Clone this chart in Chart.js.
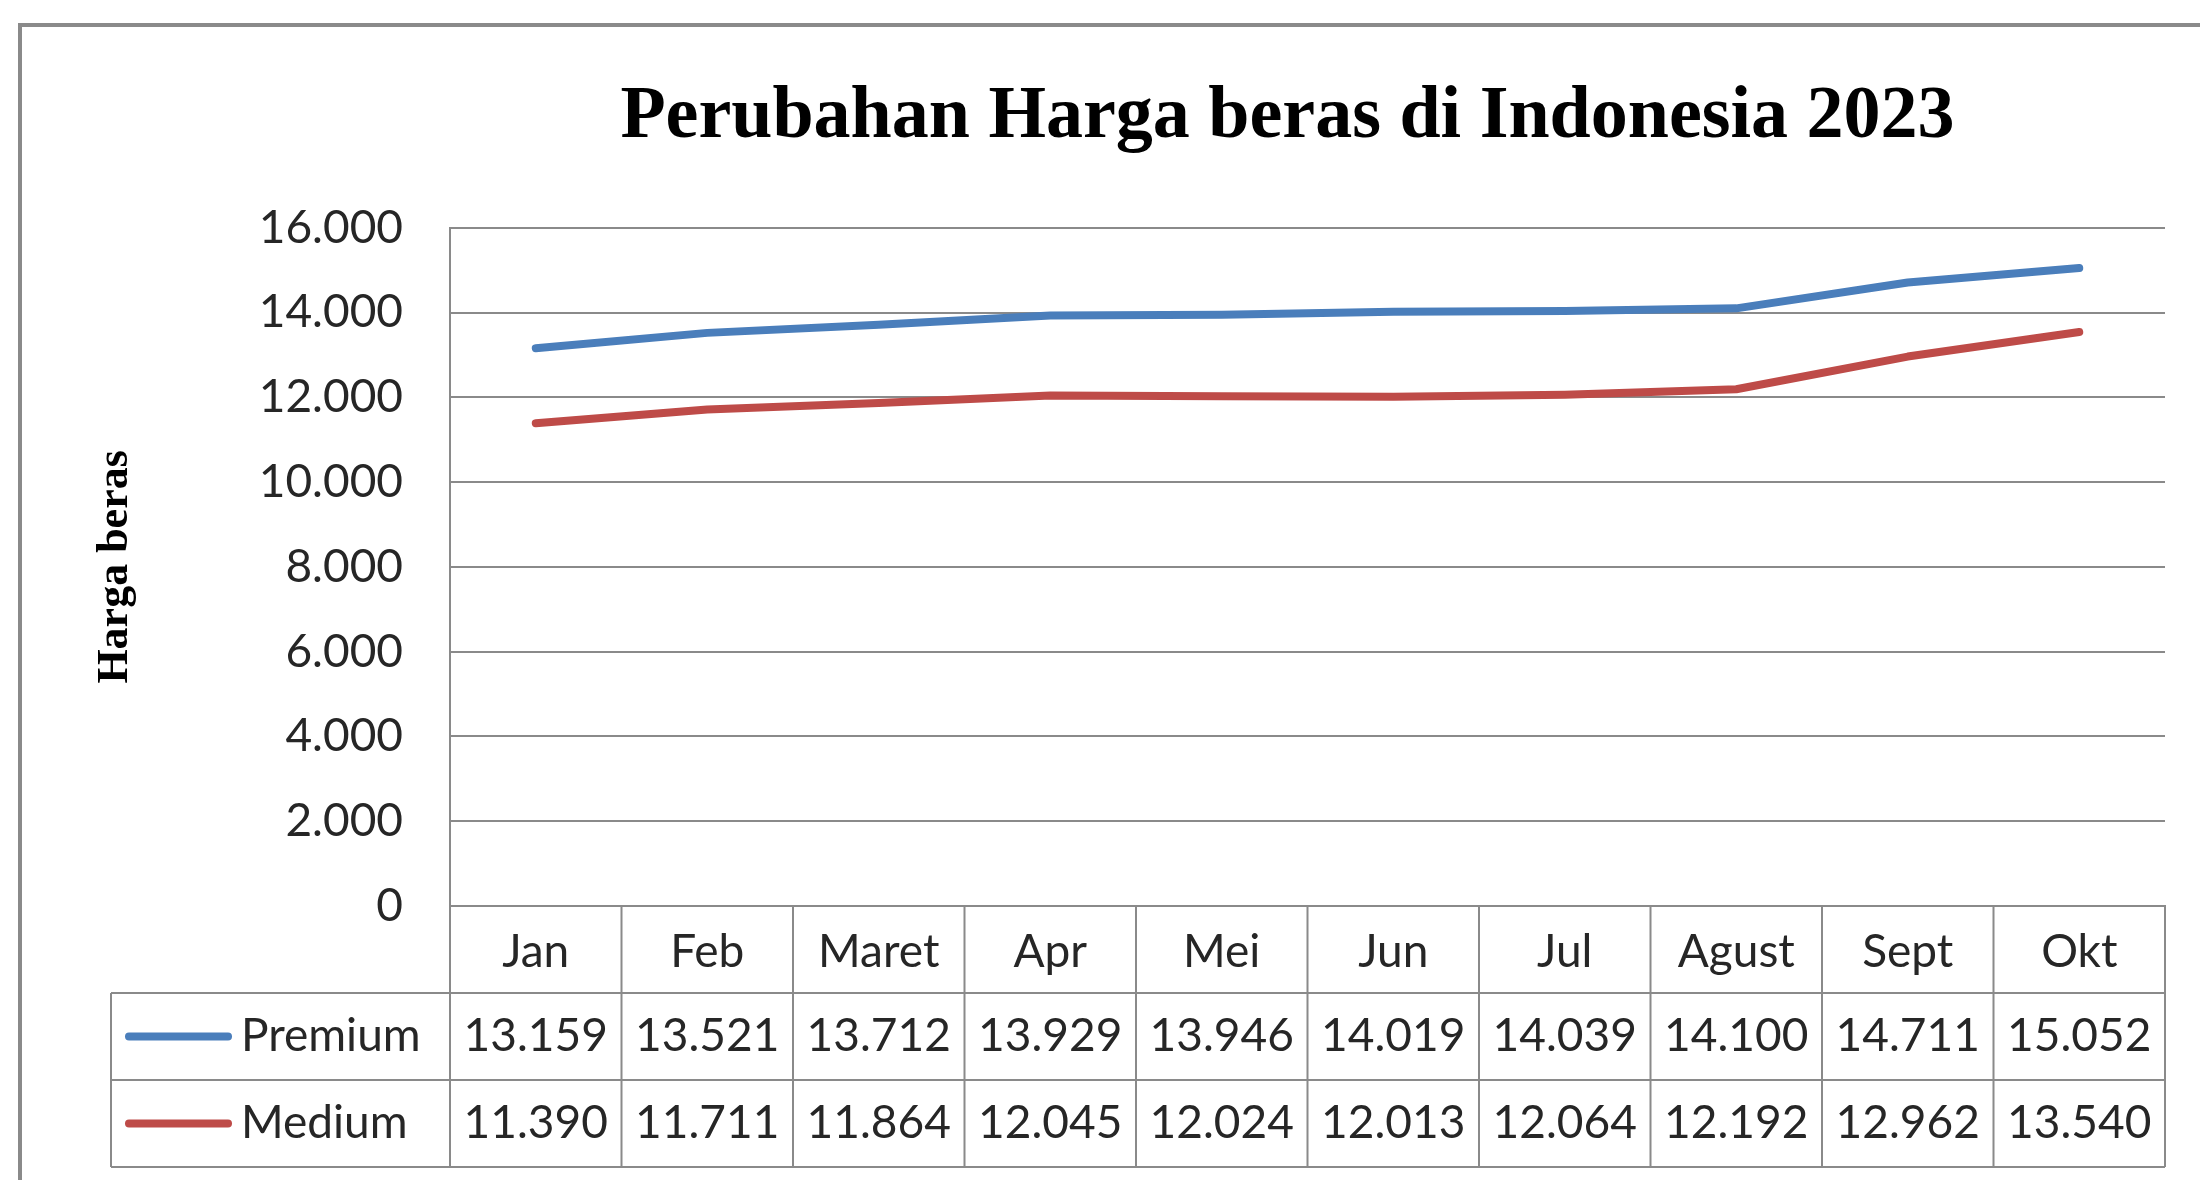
<!DOCTYPE html>
<html>
<head>
<meta charset="utf-8">
<title>Perubahan Harga beras di Indonesia 2023</title>
<script src="https://cdn.jsdelivr.net/npm/chart.js@4.4.1/dist/chart.umd.min.js"></script>
<style>
  html, body { margin: 0; padding: 0; background: #fff; }
  canvas { display: block; }
</style>
</head>
<body>
<canvas id="grafik-beras" width="2200" height="1180"></canvas>
<script>
// Harga beras per bulan, 2023
const bulan = ['Jan', 'Feb', 'Maret', 'Apr', 'Mei', 'Jun', 'Jul', 'Agust', 'Sept', 'Okt'];
const hargaPremium = [13159, 13521, 13712, 13929, 13946, 14019, 14039, 14100, 14711, 15052];
const hargaMedium = [11390, 11711, 11864, 12045, 12024, 12013, 12064, 12192, 12962, 13540];

const warnaGaris = '#8a8a8a';
const warnaTeks = '#262626';
const fontAngka = '"Lato", "Open Sans", sans-serif';
const fontJudul = '"Liberation Serif", "Times New Roman", serif';

function formatRibuan(v) {
    return String(v).replace(/\B(?=(\d{3})+(?!\d))/g, '.');
}

// Bingkai luar + geser judul sedikit ke kiri
const bingkaiPlugin = {
    id: 'bingkai',
    afterLayout(chart) {
        const t = chart.titleBlock;
        if (t) { t.left -= 20; t.right -= 20; }
    },
    beforeDraw(chart) {
        const ctx = chart.ctx;
        ctx.save();
        ctx.fillStyle = '#fff';
        ctx.fillRect(0, 0, chart.width, chart.height);
        ctx.strokeStyle = warnaGaris;
        ctx.lineWidth = 4;
        ctx.strokeRect(20, 25, chart.width + 40, chart.height + 40);
        ctx.restore();
    }
};

// Tabel data di bawah grafik
const tabelPlugin = {
    id: 'tabelData',
    afterDraw(chart) {
        const ctx = chart.ctx;
        const x = chart.scales.x;
        const area = chart.chartArea;
        const datasets = chart.data.datasets;
        const tinggiBaris = 87;
        const kiriLegenda = 111;
        const atas = x.top;
        const baris1 = x.bottom;
        const bawah = baris1 + tinggiBaris * datasets.length;
        const lebarKolom = (area.right - area.left) / bulan.length;

        ctx.save();
        ctx.strokeStyle = warnaGaris;
        ctx.lineWidth = 2;
        ctx.beginPath();
        for (let i = 0; i <= bulan.length; i++) {
            const xx = area.left + i * lebarKolom;
            ctx.moveTo(xx, atas);
            ctx.lineTo(xx, bawah);
        }
        for (let r = 0; r <= datasets.length; r++) {
            const yy = baris1 + r * tinggiBaris;
            ctx.moveTo(kiriLegenda, yy);
            ctx.lineTo(area.right, yy);
        }
        ctx.moveTo(kiriLegenda, baris1);
        ctx.lineTo(kiriLegenda, bawah);
        ctx.stroke();

        ctx.font = '46px ' + fontAngka;
        ctx.textBaseline = 'middle';
        datasets.forEach((ds, r) => {
            const tengahY = baris1 + r * tinggiBaris + tinggiBaris / 2;
            // kunci legenda
            ctx.strokeStyle = ds.borderColor;
            ctx.lineWidth = 8;
            ctx.lineCap = 'round';
            ctx.beginPath();
            ctx.moveTo(129, tengahY);
            ctx.lineTo(228, tengahY);
            ctx.stroke();

            ctx.fillStyle = warnaTeks;
            ctx.textAlign = 'left';
            ctx.fillText(ds.label, 241, tengahY);
            ctx.textAlign = 'center';
            ds.data.forEach((v, i) => {
                ctx.fillText(formatRibuan(v), x.getPixelForValue(i), tengahY);
            });
        });
        ctx.restore();
    }
};

const ctx = document.getElementById('grafik-beras').getContext('2d');
new Chart(ctx, {
    type: 'line',
    data: {
        labels: bulan,
        datasets: [
            {
                label: 'Premium',
                data: hargaPremium,
                borderColor: '#4a7ebb',
                borderWidth: 8,
                pointRadius: 0,
                tension: 0,
                borderCapStyle: 'round',
                borderJoinStyle: 'round'
            },
            {
                label: 'Medium',
                data: hargaMedium,
                borderColor: '#be4b48',
                borderWidth: 8,
                pointRadius: 0,
                tension: 0,
                borderCapStyle: 'round',
                borderJoinStyle: 'round'
            }
        ]
    },
    options: {
        responsive: false,
        animation: false,
        layout: { padding: { top: 0, left: 0, right: 35, bottom: 187 } },
        plugins: {
            legend: { display: false },
            tooltip: { enabled: false },
            title: {
                display: true,
                text: 'Perubahan Harga beras di Indonesia 2023',
                fullSize: false,
                color: '#000',
                font: { family: fontJudul, size: 74, weight: 'bold', lineHeight: 1.2 },
                padding: { top: 73, bottom: 66 }
            }
        },
        scales: {
            x: {
                offset: true,
                grid: { display: false, drawTicks: false },
                border: { display: true, color: warnaGaris, width: 2 },
                ticks: {
                    color: warnaTeks,
                    font: { family: fontAngka, size: 46 },
                    padding: 19,
                    maxRotation: 0,
                    autoSkip: false
                },
                afterFit(s) { s.height = 87; }
            },
            y: {
                min: 0,
                max: 16000,
                ticks: {
                    stepSize: 2000,
                    color: warnaTeks,
                    font: { family: fontAngka, size: 46 },
                    padding: 47,
                    callback: (v) => formatRibuan(v)
                },
                grid: { color: warnaGaris, lineWidth: 2, drawTicks: false },
                border: { display: true, color: warnaGaris, width: 2 },
                title: {
                    display: true,
                    text: 'Harga beras',
                    color: '#000',
                    font: { family: fontJudul, size: 44, weight: 'bold', lineHeight: 1.2 },
                    padding: { top: 89, bottom: 0 }
                },
                afterFit(s) { s.width = 450; }
            }
        }
    },
    plugins: [bingkaiPlugin, tabelPlugin]
});
</script>
</body>
</html>
